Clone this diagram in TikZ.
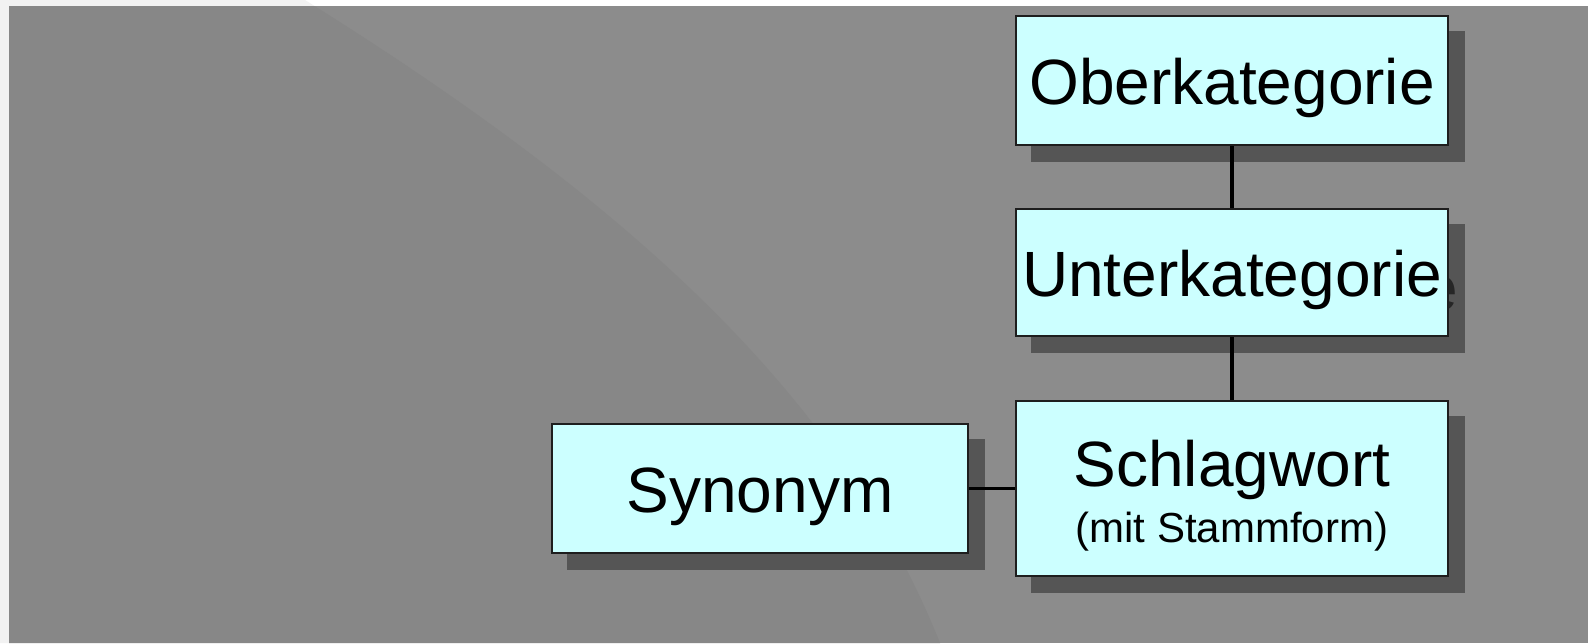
\documentclass[tikz,border=0pt]{standalone}
\usepackage{fontspec}
\setmainfont{Liberation Sans}
\definecolor{bgdark}{HTML}{878787}
\definecolor{bglight}{HTML}{8C8C8C}
\definecolor{frameA}{HTML}{F2F2F2}
\definecolor{shadowc}{HTML}{555555}
\definecolor{shadowtxt}{HTML}{262626}
\definecolor{boxfill}{HTML}{CCFFFF}
\definecolor{boxline}{HTML}{1E1E1E}
\pgfdeclarelayer{bg}
\pgfdeclarelayer{shadow}
\pgfsetlayers{bg,shadow,main}
\newcommand\arcregionpath{(0,0) -- (305,0) .. controls (625,200) and (840,393) .. (940,643) -- (0,643) -- cycle}
\begin{document}
\begin{tikzpicture}[x=1pt,y=-1pt,
  catbox/.style={draw=boxline,line width=2.8pt,fill=boxfill,rectangle,inner sep=0pt,
    minimum width=432pt,minimum height=129pt,font=\fontsize{64}{70}\selectfont,
    text height=48pt,text depth=0pt},
  echotext/.style={inner sep=0pt,font=\fontsize{64}{70}\selectfont,text=shadowtxt,
    text height=48pt,text depth=0pt},
  plaintext/.style={inner sep=0pt,anchor=base},
  link/.style={line width=3.2pt,black}]
\useasboundingbox (0,0) rectangle (1588,643);
% background
\begin{pgfonlayer}{bg}
  \fill[white] (0,0) rectangle (1588,643);
  \fill[frameA] \arcregionpath;
  \fill[bglight] (9,6) rectangle (1588,643);
  \begin{scope}
    \clip (9,6) rectangle (1588,643);
    \fill[bgdark] \arcregionpath;
  \end{scope}
\end{pgfonlayer}
% boxes
\node[catbox] (ober) at (1232,80.5) {Oberkategorie};
\node[catbox,minimum height=127pt] (unter) at (1232,272.5) {Unterkategorie};
\node[catbox,minimum height=175pt] (schlag) at (1232,488.5) {};
\node[catbox,minimum width=416pt] (syn) at (760,488.5) {Synonym};
\node[plaintext,font=\fontsize{64}{70}\selectfont] (schlagA) at (1232,486.7) {Schlagwort};
\node[plaintext,font=\fontsize{42}{50}\selectfont] (schlagB) at (1232,542.7) {(mit Stammform)};
% connectors
\draw[link] (ober) -- (unter);
\draw[link] (unter) -- (schlag);
\draw[link] (syn) -- (schlag);
% shadows
\begin{pgfonlayer}{shadow}
  \foreach \n in {ober,unter,schlag,syn}
    \fill[shadowc] ([shift={(16,16)}]\n.south west) rectangle ([shift={(16,16)}]\n.north east);
  \node[echotext] (unterecho) at ([shift={(16,14)}]unter.center) {Unterkategorie};
\end{pgfonlayer}
\end{tikzpicture}
\end{document}
